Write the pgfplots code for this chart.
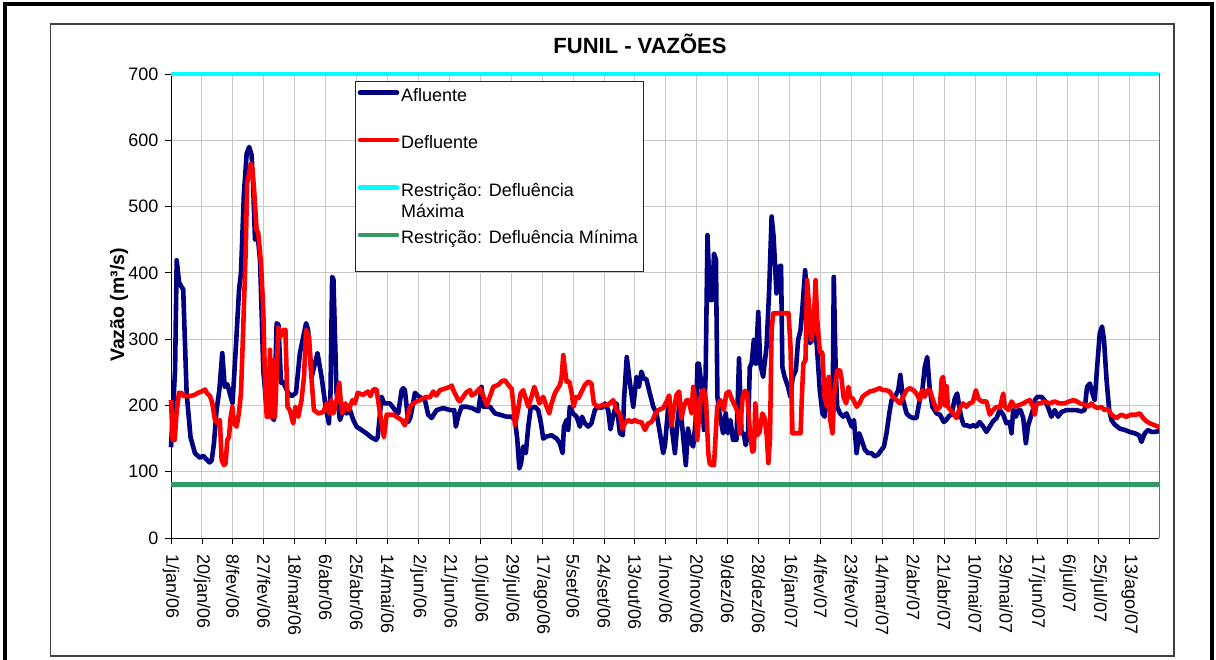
\documentclass[border=0pt]{standalone}
\usepackage{pgfplots}
\pgfplotsset{compat=1.18}
\usepackage{fontspec}
\setmainfont{Liberation Sans}
\definecolor{afl}{RGB}{0,0,128}
\definecolor{defl}{RGB}{255,0,0}
\definecolor{maxc}{RGB}{0,255,255}
\definecolor{minc}{RGB}{51,153,102}
\definecolor{gridc}{RGB}{200,200,200}
\newcommand{\fs}{\fontsize{18}{20}\selectfont}
\begin{document}
\begin{tikzpicture}[x=1pt,y=1pt]
\useasboundingbox (0,0) rectangle (1216,659);
\draw[line width=4pt] (4.5,-20) rectangle (1212,654.5);
\draw[line width=1.2pt, black!75] (50.5,3) rectangle (1174,635);
\begin{axis}[
  at={(171pt,121pt)}, anchor=south west,
  width=988pt, height=464pt, scale only axis,
  xmin=0, xmax=607, ymin=0, ymax=700,
  clip=false,
  axis x line*=bottom, axis y line*=left,
  axis line style={line width=1pt, black},
  tick align=outside, major tick length=6pt,
  tick style={black, line width=0.8pt},
  xtick={0,19,...,589},
  xticklabels={1/jan/06,20/jan/06,8/fev/06,27/fev/06,18/mar/06,6/abr/06,25/abr/06,14/mai/06,2/jun/06,21/jun/06,10/jul/06,29/jul/06,17/ago/06,5/set/06,24/set/06,13/out/06,1/nov/06,20/nov/06,9/dez/06,28/dez/06,16/jan/07,4/fev/07,23/fev/07,14/mar/07,2/abr/07,21/abr/07,10/mai/07,29/mai/07,17/jun/07,6/jul/07,25/jul/07,13/ago/07},
  xticklabel style={rotate=-90, anchor=west, font=\fs, xshift=7pt},
  ytick={0,100,...,700},
  yticklabel style={font=\fs, xshift=-3pt},
  /pgf/number format/assume math mode=true,
  grid=major,
  major grid style={gridc, line width=0.9pt},
]
\draw[black!55, line width=1pt] (rel axis cs:1,0) -- (rel axis cs:1,1) -- (rel axis cs:0,1);
\addplot[afl, line width=4.6pt, line join=round, no marks] coordinates {
(0,137)(2.5,253)(3.5,419)(5,385)(6.5,379)(7.5,375)(9.6,219)(12,152)(14.7,128)(17.8,121)(19.8,124)(22,118)(23.7,114)(25,117)(26.4,143)(28,193)(29.7,223)(31.5,279)(33,228)(34.6,232)(36.7,213)(37.8,203)(40,294)(41.8,374)(43,400)(44.8,520)(46.5,580)(48,590)(49.5,578)(50.5,530)(51.6,450)(53.2,458)(54.7,419)(55.7,339)(56.7,253)(58.8,193)(61.8,183)(63.3,178)(64.9,324)(66,322)(67.6,234)(68.6,236)(72,219)(74,214)(76.8,219)(79.2,279)(83,324)(84.2,314)(86.4,243)(90,279)(92.5,243)(95,198)(97,173)(98,219)(99,394)(99.8,390)(101.7,219)(103.8,178)(105.8,193)(107.9,188)(110,193)(112,178)(114,168)(117,163)(120,158)(123,152)(126,148)(127,152)(129.4,213)(131,203)(134.5,203)(137.6,193)(139.6,188)(141.7,223)(142.7,226)(143.7,223)(145.8,175)(147.2,183)(149.9,219)(152,214)(156,208)(158,186)(160.1,181)(163.2,193)(167.3,196)(171.4,193)(174,193)(175,168)(176.4,183)(178.5,198)(181.6,198)(185,196)(188.8,191)(190.8,228)(192,198)(196,198)(199,188)(202,186)(206.2,183)(209.3,183)(211.3,178)(212.7,150)(214,105)(215,112)(216.4,138)(218,128)(219.5,168)(221,196)(223.6,198)(225.6,193)(227.3,173)(228.7,150)(230.5,153)(233.8,155)(236.9,150)(238.9,143)(240.6,128)(241.4,168)(243,178)(244,163)(245,198)(247,188)(249.2,183)(251.2,168)(252.5,183)(254.3,173)(256.3,168)(258.3,173)(260.4,193)(262.5,198)(264.5,196)(266.6,203)(268.6,193)(270,164)(271.7,185)(273.7,203)(275.8,158)(277.6,155)(278.3,208)(280,273)(282,233)(284,198)(286,243)(287.5,228)(289,251)(290.5,240)(292,240)(294.2,218)(296.3,198)(298.3,188)(300.4,158)(302.4,128)(303.5,140)(306,213)(307.5,170)(309.6,128)(311,170)(312.6,208)(314,170)(316.3,110)(317.6,165)(319.2,145)(320.8,138)(322.3,175)(323.5,263)(324.3,263)(326,230)(327.4,163)(328.5,250)(329.6,457)(331.1,359)(332.5,359)(333.6,429)(334.8,420)(335.7,213)(337,188)(339.2,158)(340.8,188)(342.2,158)(343.7,178)(345.3,148)(347.4,148)(349,271)(350.5,158)(351.8,158)(353.1,140)(354.5,158)(355.6,258)(356.7,263)(358.1,299)(359.3,263)(360.8,341)(362,263)(363.8,243)(365.9,289)(367.5,374)(369,485)(370.2,455)(372,369)(373.5,409)(374.8,411)(375.6,258)(377,243)(379.1,228)(380.5,213)(382,243)(383.9,253)(385.3,299)(386.8,314)(388,350)(389.6,404)(390.8,360)(392.5,294)(394,299)(395.4,310)(396.8,290)(398.6,223)(400.2,188)(401.6,183)(403,238)(404.6,198)(406.4,168)(407.2,394)(408.3,260)(409.3,198)(411,188)(413,183)(415,188)(418.2,168)(419.6,178)(421.2,128)(422.8,158)(424.3,148)(426.3,133)(428.3,128)(430.3,128)(432.4,123)(434.5,126)(436.5,133)(438,138)(439.6,158)(441.3,188)(442.7,208)(444.8,213)(446.8,223)(448.1,246)(449.8,208)(451.9,188)(454,183)(456,181)(458,181)(460,208)(461.6,223)(463.1,258)(464.6,273)(466.2,223)(467.8,198)(470.3,188)(472.4,186)(474.8,175)(476.3,178)(478,184)(479.5,186)(481.6,211)(483,218)(484.3,198)(485.6,181)(487.1,170)(489,170)(490.8,168)(492.8,170)(494.8,168)(496.8,175)(499,168)(501,160)(503,168)(505,176)(507.2,181)(509.2,193)(511.3,186)(513.3,173)(515.3,175)(516.4,158)(517.4,193)(519.1,183)(520.5,193)(521.9,193)(523.6,181)(525.2,143)(526.6,170)(528,181)(529.5,193)(530.7,208)(532.3,213)(534.7,213)(536.7,208)(538.7,198)(540.9,183)(542.9,193)(545,183)(547.1,190)(550.1,193)(553.2,193)(556.2,193)(559.3,191)(561.3,193)(562.8,228)(564.5,233)(566.1,218)(567.5,208)(569,258)(570.6,309)(572,319)(573.2,299)(574.8,238)(576.4,193)(577.8,178)(579.8,171)(582.9,165)(586,163)(589,160)(592.1,158)(594.8,155)(596.2,145)(598.3,158)(600.3,163)(602.3,160)(604.4,160)(606.4,161)(607,161)
};
\addplot[defl, line width=4.6pt, line join=round, no marks] coordinates {
(0,208)(1,148)(2.3,148)(3.4,189)(4.9,219)(6.5,219)(7.8,214)(11.7,214)(14.6,216)(16.6,219)(18.8,221)(20.9,224)(22,219)(24,214)(25.4,203)(27,178)(28.5,173)(30,178)(31.1,118)(32.5,110)(33.5,112)(34.6,148)(35.6,152)(36.7,183)(37.7,198)(38.7,173)(40.3,168)(41.7,188)(43,219)(44.4,318)(45.9,434)(46.8,536)(48,550)(49,565)(50,558)(51.2,520)(52.6,465)(53.6,460)(55.3,415)(56.7,344)(57.7,243)(58.8,183)(59.8,183)(60.8,284)(61.8,183)(62.8,268)(63.9,183)(66,318)(67.4,304)(69,314)(70.3,314)(71.6,198)(73,193)(75.1,173)(76.5,198)(78.2,183)(80.2,208)(81.7,243)(83,314)(84.8,303)(86.4,238)(87.8,193)(90.5,188)(93.6,190)(95.6,203)(97.3,188)(98.3,208)(99.8,188)(101.7,208)(103.4,234)(104,214)(105.3,188)(107.2,203)(109.1,193)(111.5,208)(113,203)(114.7,219)(118,216)(121,221)(122.5,214)(124.3,224)(126.3,224)(128.4,188)(130.8,152)(132.5,186)(136.6,186)(139.7,181)(141.7,178)(143.7,170)(145.8,188)(146.8,198)(148.8,203)(151,206)(153,208)(155,211)(157,213)(159,212)(161.1,221)(163,215)(165.2,223)(168,225)(171.4,228)(172.5,230)(173.5,223)(176.5,208)(177.5,206)(179.5,213)(181.6,220)(183.7,223)(184.7,215)(186.8,218)(189.8,226)(191.8,215)(193.9,200)(195.9,213)(198,228)(201,231)(203,236)(205.2,238)(207.2,231)(209.3,225)(210.7,193)(211.3,170)(213.2,193)(214.8,218)(216.4,223)(218,210)(219.5,198)(221.5,213)(223.2,228)(224.6,218)(226.3,203)(227.3,208)(228.7,213)(230.5,200)(232.4,188)(233.8,203)(235.8,218)(236.9,223)(239,231)(240,243)(241,276)(242,255)(243,236)(244.7,236)(246,221)(247.3,198)(249,213)(250.3,211)(252.3,221)(254.3,231)(256.3,236)(258.3,233)(259.8,203)(262.3,198)(265.6,201)(268.6,201)(271.7,208)(273.7,193)(275.8,188)(277.4,165)(278.8,173)(280.9,178)(283,175)(285,178)(287,175)(289,175)(291.2,163)(293.2,173)(295.3,175)(297.3,186)(299.3,193)(302.4,196)(304.5,206)(306.1,215)(307.5,170)(308.6,190)(310.6,216)(312.2,221)(313.6,180)(315.1,198)(316.7,208)(318.1,208)(319.8,188)(320.8,228)(322.2,205)(323.3,148)(324.6,190)(326,221)(327.4,223)(328.7,208)(330.1,128)(331,112)(332.2,110)(333.6,110)(335.6,198)(337.6,208)(339.6,193)(341.2,218)(342.8,221)(344.8,208)(346.8,198)(348.3,188)(349.5,158)(351.2,213)(352.5,222)(354,218)(355.6,163)(357.2,130)(358.1,133)(359,203)(360.2,155)(361.6,160)(363.3,188)(364.8,180)(366,155)(367,113)(368,150)(369,314)(370,339)(372,339)(374,339)(376.7,339)(379.4,339)(380.6,289)(381.8,158)(383.5,158)(385.3,158)(386.8,158)(387.6,213)(388.5,263)(389.8,268)(390.8,389)(392,350)(393.5,299)(394.8,320)(396,389)(397,330)(398.6,282)(400.2,279)(401.5,213)(403,198)(404.2,243)(404.9,180)(406.4,158)(407.5,220)(409.3,253)(411,253)(412,240)(413.1,213)(414.8,203)(416.2,228)(417.2,213)(419,210)(421.2,198)(423,203)(424.8,213)(426.3,216)(429.4,221)(432.4,223)(435.4,226)(437.4,223)(439.5,223)(441.5,221)(443.5,213)(445.8,208)(447.8,203)(449.8,213)(451.9,223)(454,226)(456,223)(458,218)(460,208)(461.6,223)(463.1,213)(464.6,223)(466.2,223)(468.2,208)(470.3,193)(472.4,198)(473.5,240)(474.4,243)(475.5,200)(476.5,229)(477.3,198)(479,193)(480.5,188)(482.6,181)(484.6,196)(486.6,203)(488.6,198)(490.6,203)(492.6,205)(494.5,223)(496,210)(498,206)(501,206)(503,186)(505,193)(507.2,198)(509.2,196)(511.3,218)(512.3,198)(514.5,193)(516.4,206)(518.4,198)(520.5,200)(523.6,203)(525.6,206)(527.6,208)(529.6,198)(530.7,186)(531.8,203)(533.8,203)(536.8,206)(539.8,203)(542.9,206)(545.9,203)(548.9,203)(551.9,206)(554.5,208)(556.5,206)(558.5,203)(561.5,201)(563.5,198)(565.5,203)(567.5,198)(569.5,196)(571.5,198)(573.5,193)(575.5,195)(577.8,186)(580.8,181)(583.8,186)(586.9,183)(589.9,186)(593,186)(595.2,188)(597.2,181)(599.3,176)(601.4,173)(603.4,171)(606.4,168)(607,168)
};
\addplot[maxc, line width=4.5pt, no marks] coordinates {(0,700)(607,700)};
\addplot[minc, line width=5pt, no marks] coordinates {(0,80)(607,80)};
\end{axis}
% title and axis label
\node[font=\fontsize{22}{24}\selectfont\bfseries] at (640,615) {FUNIL - VAZÕES};
\node[font=\fontsize{19.5}{22}\selectfont\bfseries, rotate=90] at (119,354) {Vazão (m³/s)};
% legend
\draw[draw=black!85, fill=white, line width=0.8pt] (355,578) rectangle (643,388);
\draw[afl, line width=4.5pt, line cap=round] (360,566.3) -- (397,566.3);
\draw[defl, line width=4.5pt, line cap=round] (360,519) -- (397,519);
\draw[maxc, line width=4.5pt, line cap=round] (360,471.7) -- (397,471.7);
\draw[minc, line width=4.5pt, line cap=round] (360,424) -- (397,424);
\node[font=\fs, anchor=base west, inner sep=0] at (401,557.3) {Afluente};
\node[font=\fs, anchor=base west, inner sep=0] at (401,510.7) {Defluente};
\node[font=\fs, anchor=base west, inner sep=0] at (401,462.3) {Restrição: Defluência};
\node[font=\fs, anchor=base west, inner sep=0] at (401,441.3) {Máxima};
\node[font=\fs, anchor=base west, inner sep=0] at (401,415.7) {Restrição: Defluência Mínima};
\end{tikzpicture}
\end{document}
